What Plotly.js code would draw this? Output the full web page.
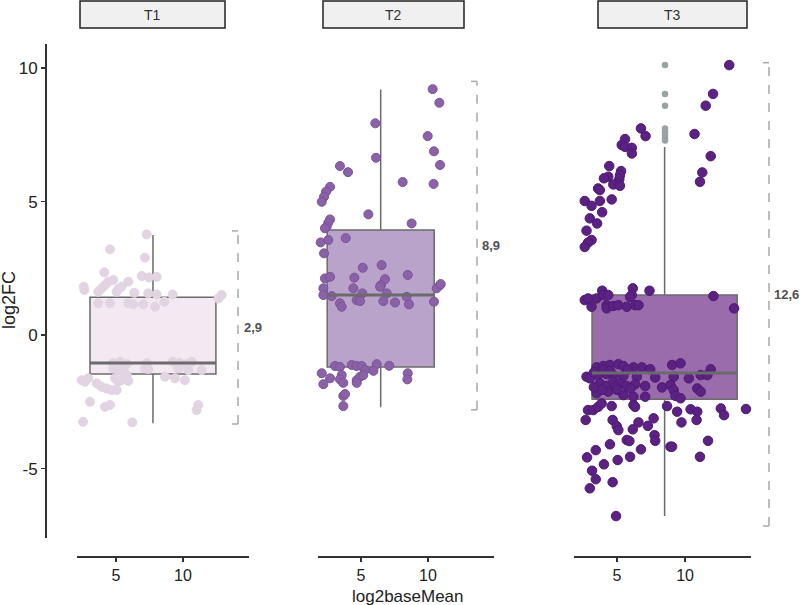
<!DOCTYPE html>
<html><head><meta charset="utf-8">
<script src="https://cdn.plot.ly/plotly-3.0.1.min.js"></script>
<style>html,body{margin:0;padding:0;background:#fff}</style>
</head><body><div id="chart" style="width:800px;height:605px"></div>
<script>
// ---------- data ----------
const panels = ['T1','T2','T3'];
const rangeLabels = ['2,9','8,9','12,6'];

const t1x = [7.29,4.55,7.16,4.13,6.92,7.46,8.04,2.59,2.64,4.43,4.8,4.18,3.93,3.68,5.92,5.42,5.17,5.05,6.37,9.23,7.41,8.04,12.89,12.64,3.68,4.55,5.92,6.29,7.04,7.91,8.61,2.44,2.93,2.69,4.8,5.17,5.54,5.8,4.93,5.42,5.92,5.17,7.16,7.41,8.66,9.4,10.15,9.65,10.4,11.4,3.56,3.93,4.3,4.68,5.05,3.06,4.18,4.55,11.14,11.02,2.54,6.22,4.78,5.3,5.82,7.3,9.25,9.78,10.3,10.67];
const t1y = [3.77,3.21,2.9,2.35,2.21,2.16,2.18,1.81,1.69,2.0,2.06,1.87,1.75,1.62,2.0,1.81,1.72,1.62,1.58,1.52,1.56,1.52,1.5,1.37,1.19,1.19,1.19,1.15,1.15,1.06,1.25,-1.69,-1.62,-1.75,-1.25,-1.31,-1.37,-1.5,-1.62,-1.69,-1.72,-1.75,-1.25,-1.27,-1.56,-1.62,-1.69,-1.25,-1.31,-1.31,-1.81,-1.94,-2.0,-2.06,-2.06,-2.5,-2.69,-2.62,-2.62,-2.81,-3.25,-3.27,-1.05,-1.0,-1.08,-1.05,-1.0,-1.05,-1.08,-1.0];

const t2x = [10.35,10.85,6.07,9.98,10.45,6.12,10.9,3.43,4.03,8.11,10.42,2.69,2.39,2.24,2.07,5.55,2.69,2.56,2.44,2.31,8.78,1.99,2.56,3.86,
  2.24,5.13,6.54,8.49,2.31,2.69,4.5,6.79,6.49,2.19,4.43,10.9,10.65,6.42,5.1,10.95,
  2.19,2.81,4.68,4.93,6.92,6.67,7.54,8.41,8.58,10.45,3.43,3.56,
  3.06,3.43,4.31,4.68,5.05,6.17,7.11,5.93,5.3,2.07,2.69,2.19,3.56,3.43,3.68,4.68,4.93,5.17,4.68,8.49,8.46,3.68,3.81,3.68];
const t2y = [9.21,8.7,7.93,7.45,6.88,6.64,6.37,6.33,6.1,5.73,5.66,5.55,5.37,5.18,4.99,4.52,4.33,4.21,4.06,4.0,4.18,3.47,3.56,3.63,
  3.06,2.52,2.62,2.25,2.12,2.18,2.15,2.09,1.87,1.75,1.75,1.87,1.75,1.81,1.56,1.91,
  1.5,1.46,1.31,1.27,1.56,1.27,1.22,1.43,1.15,1.25,1.19,1.06,
  -1.16,-1.19,-1.12,-1.16,-1.16,-1.09,-1.15,-1.34,-1.31,-1.43,-1.62,-1.84,-1.5,-1.66,-1.79,-1.69,-1.56,-1.5,-1.79,-1.43,-1.66,-2.28,-2.21,-2.66];

const t3x = [13.25,12.06,11.52,6.76,7.1,10.7,5.59,5.35,5.59,6.09,6.09,11.89,4.43,5.3,5.22,5.17,5.1,4.73,5.22,4.36,4.04,11.27,11.1,3.61,3.74,2.63,3.13,3.74,4.61,3.91,3.0,3.54,2.76,3.13,2.87,2.63,
  3.91,6.16,7.39,6.09,5.96,2.63,2.88,3.5,3.99,4.36,3.13,4.24,4.24,4.73,5.1,5.72,6.33,6.58,12.09,13.61,
  3.5,3.99,4.48,5.1,5.47,6.21,6.83,7.44,9.05,9.67,11.89,
  2.76,3.0,3.61,4.24,4.73,5.47,6.46,7.81,9.17,10.28,11.15,11.64,
  3.74,4.24,4.73,5.22,5.72,6.33,7.07,8.31,8.93,9.17,10.9,11.15,
  3.5,4.36,5.47,6.21,7.07,9.3,9.67,
  4.0,4.5,5.8,3.3,4.9,5.0,3.9,6.0,3.3,
  2.87,3.25,3.61,3.87,4.61,6.21,6.33,8.68,9.42,10.41,10.9,10.85,12.63,12.87,14.48,2.7,4.68,4.98,5.1,6.58,6.16,7.27,7.69,9.74,7.76,7.81,5.72,5.91,4.48,3.44,6.76,8.93,9.05,11.69,2.8,5.96,5.05,11.1,4.04,3.17,3.44,4.68,3.0,4.93];
const t3y = [10.11,9.03,8.59,7.74,7.45,7.53,7.34,7.12,7.05,7.01,6.8,6.7,6.33,6.14,5.99,5.84,5.68,5.64,5.59,5.93,5.87,6.09,5.74,5.49,5.43,5.02,4.84,5.02,5.08,4.6,4.37,4.18,3.91,3.56,3.46,3.3,
  1.66,1.75,1.66,1.5,1.43,1.31,1.37,1.37,1.5,1.5,1.06,1.12,1.0,1.09,1.12,1.06,1.12,1.12,1.46,1.0,
  -1.21,-1.16,-1.12,-1.09,-1.16,-1.21,-1.21,-1.28,-1.12,-1.06,-1.28,
  -1.56,-1.62,-1.5,-1.46,-1.5,-1.54,-1.56,-1.59,-1.56,-1.62,-1.5,-1.5,
  -1.81,-1.91,-1.75,-1.81,-1.91,-1.84,-1.91,-1.96,-1.87,-2.06,-2.0,-2.12,
  -2.18,-2.12,-2.25,-2.31,-2.31,-2.28,-2.37,
  -1.3,-1.35,-1.3,-1.4,-1.95,-2.05,-2.05,-2.0,-1.95,
  -2.81,-2.81,-2.69,-2.56,-2.66,-2.62,-2.69,-2.66,-2.87,-2.78,-2.87,-3.18,-2.75,-3.0,-2.77,-3.18,-3.18,-3.41,-3.56,-3.27,-3.53,-3.4,-3.12,-3.27,-3.75,-3.96,-3.93,-3.97,-4.09,-4.31,-4.28,-4.18,-4.18,-3.96,-4.58,-4.56,-4.68,-4.56,-4.84,-5.08,-5.4,-5.51,-5.74,-6.78];

// T3 box outliers
const t3outX = [8.53,8.53,8.53,8.53,8.53,8.53,8.53,8.53];
const t3outY = [10.11,9.03,8.59,7.74,7.61,7.49,7.39,7.29];

// box statistics per panel
const boxCenter = [7.76, 6.47, 8.5];
const boxWidth  = [9.4, 7.99, 10.67];
const boxQ1     = [-1.46, -1.2, -2.4];
const boxMedian = [-1.05, 1.5, -1.42];
const boxQ3     = [1.42, 3.93, 1.5];
const boxLow    = [-3.3, -2.7, -6.78];
const boxHigh   = [3.75, 9.2, 7.04];

// range brackets (log2FC)
const bracketTop = [3.9, 9.5, 10.2];
const bracketBot = [-3.33, -2.8, -7.15];

// ---------- styling ----------
const FONT = 'Liberation Sans, Arial, Helvetica, sans-serif';
const W = 800, H = 605;
const px = v => v / W, py = v => 1 - v / H;

const pointColor = ['#e2d4e2', '#8b62a7', '#5b2183'];
const pointLine  = ['#e2d4e2', '#7a5398', '#4f1a74'];
const boxFill    = ['#f3e9f2', '#b9a3cb', '#9a6cab'];
const boxLine    = '#6b6b6b';
const xs = ['x', 'x2', 'x3'];
const ptsX = [t1x, t2x, t3x], ptsY = [t1y, t2y, t3y];

const traces = [];
for (let i = 0; i < 3; i++) {
  traces.push({
    type: 'box', xaxis: xs[i], yaxis: 'y',
    x: [boxCenter[i]], q1: [boxQ1[i]], median: [boxMedian[i]], q3: [boxQ3[i]],
    lowerfence: [boxLow[i]], upperfence: [boxHigh[i]],
    width: boxWidth[i], whiskerwidth: 0, boxpoints: false,
    fillcolor: boxFill[i], line: {color: boxLine, width: 1.5},
    hoverinfo: 'skip', showlegend: false
  });
}
for (let i = 0; i < 3; i++) {
  traces.push({
    type: 'scatter', mode: 'markers', xaxis: xs[i], yaxis: 'y',
    x: ptsX[i], y: ptsY[i],
    marker: {size: i === 2 ? 9.5 : 9, color: pointColor[i], line: {color: pointLine[i], width: 1}},
    showlegend: false, hoverinfo: 'skip', cliponaxis: false
  });
}
for (let i = 0; i < 3; i++) {
  traces.push({
    type: 'scatter', mode: 'lines', xaxis: xs[i], yaxis: 'y',
    x: [boxCenter[i] - boxWidth[i] / 2, boxCenter[i] + boxWidth[i] / 2],
    y: [boxMedian[i], boxMedian[i]],
    line: {color: boxLine, width: 3}, showlegend: false, hoverinfo: 'skip'
  });
}
traces.push({
  type: 'scatter', mode: 'markers', xaxis: 'x3', yaxis: 'y',
  x: t3outX, y: t3outY,
  marker: {size: 6.5, color: '#9aa3a3'}, showlegend: false, hoverinfo: 'skip', cliponaxis: false
});

const xAxisBase = {
  anchor: 'free', position: py(557), showline: true, linecolor: '#333', linewidth: 2,
  ticks: 'outside', ticklen: 4, tickwidth: 1.5, tickcolor: '#333',
  tickvals: [5, 10], ticktext: ['5', '10'], tickfont: {family: FONT, size: 16, color: '#222'},
  showgrid: false, zeroline: false, fixedrange: true
};
const layout = {
  width: W, height: H, margin: {l: 0, r: 0, t: 0, b: 0},
  paper_bgcolor: '#fff', plot_bgcolor: 'rgba(0,0,0,0)',
  font: {family: FONT},
  showlegend: false,
  xaxis:  Object.assign({}, xAxisBase, {domain: [px(77), px(249)], range: [2.09, 14.93]}),
  xaxis2: Object.assign({}, xAxisBase, {domain: [px(318), px(494)], range: [1.79, 14.93]}),
  xaxis3: Object.assign({}, xAxisBase, {domain: [px(574), px(751)], range: [1.84, 14.85]}),
  yaxis: {
    domain: [py(538), py(44)], range: [-7.6, 10.9], anchor: 'free', position: px(46),
    showline: true, linecolor: '#333', linewidth: 2,
    ticks: 'outside', ticklen: 4, tickwidth: 1.5, tickcolor: '#333',
    tickvals: [-5, 0, 5, 10], ticktext: ['-5', '0', '5', '10'],
    tickfont: {family: FONT, size: 17, color: '#222'},
    showgrid: false, zeroline: false, fixedrange: true
  },
  shapes: [], annotations: []
};

const stripX = [[80, 225], [323, 464], [598, 747]];
const bracketX = [238, 477, 769];
const labelX = [253, 491, 786];
for (let i = 0; i < 3; i++) {
  layout.shapes.push({type: 'rect', xref: 'paper', yref: 'paper',
    x0: px(stripX[i][0]), x1: px(stripX[i][1]), y0: py(28), y1: py(1),
    fillcolor: '#f0f0f0', line: {color: '#222', width: 1.5}, layer: 'above'});
  layout.annotations.push({xref: 'paper', yref: 'paper', x: px((stripX[i][0] + stripX[i][1]) / 2), y: py(14.5),
    text: panels[i], showarrow: false, font: {family: FONT, size: 14, color: '#333'}, xanchor: 'center', yanchor: 'middle'});
  const bx = px(bracketX[i]), bl = px(bracketX[i] - 6);
  layout.shapes.push({type: 'line', xref: 'paper', yref: 'y', x0: bx, x1: bx, y0: bracketBot[i], y1: bracketTop[i],
    line: {color: '#a8a8a8', width: 1.5, dash: 'dash'}});
  layout.shapes.push({type: 'line', xref: 'paper', yref: 'y', x0: bl, x1: bx, y0: bracketTop[i], y1: bracketTop[i],
    line: {color: '#a8a8a8', width: 1.5}});
  layout.shapes.push({type: 'line', xref: 'paper', yref: 'y', x0: bl, x1: bx, y0: bracketBot[i], y1: bracketBot[i],
    line: {color: '#a8a8a8', width: 1.5}});
  layout.annotations.push({xref: 'paper', yref: 'y', x: px(labelX[i]), y: (bracketTop[i] + bracketBot[i]) / 2,
    text: '<b>' + rangeLabels[i] + '</b>', showarrow: false, font: {family: FONT, size: 13, color: '#505050'}, xanchor: 'center', yanchor: 'middle'});
}
layout.annotations.push({xref: 'paper', yref: 'paper', x: px(9), y: py(300), text: 'log2FC', textangle: -90,
  showarrow: false, font: {family: FONT, size: 18, color: '#222'}, xanchor: 'center', yanchor: 'middle'});
layout.annotations.push({xref: 'paper', yref: 'paper', x: px(408), y: py(596), text: 'log2baseMean',
  showarrow: false, font: {family: FONT, size: 17, color: '#222'}, xanchor: 'center', yanchor: 'middle'});

Plotly.newPlot('chart', traces, layout, {staticPlot: true, displayModeBar: false});
</script></body></html>
